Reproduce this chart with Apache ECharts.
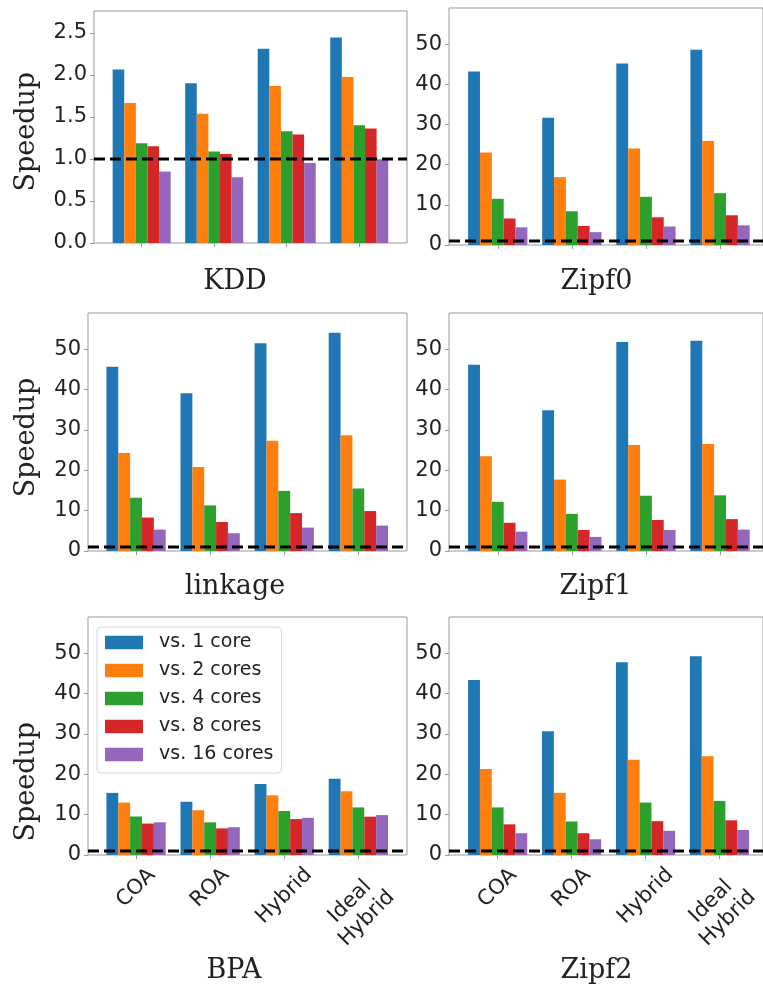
<!DOCTYPE html>
<html><head><meta charset="utf-8">
<script src="https://cdn.jsdelivr.net/npm/echarts@6.0.0/dist/echarts.min.js"></script>
<style>html,body{margin:0;padding:0;background:#fff}#c{width:763px;height:988px}</style>
</head><body><div id="c"></div>
<script>
// ---------- data ----------
const categories = ['COA', 'ROA', 'Hybrid', 'Ideal\nHybrid'];
const seriesNames = ['vs. 1 core', 'vs. 2 cores', 'vs. 4 cores', 'vs. 8 cores', 'vs. 16 cores'];
const panelTitles = ['KDD', 'Zipf0', 'linkage', 'Zipf1', 'BPA', 'Zipf2'];
const baselineValue = 1;
const kddTicks = [0, 0.5, 1, 1.5, 2, 2.5];
const speedTicks = [0, 10, 20, 30, 40, 50];
// rows: vs 1, 2, 4, 8, 16 cores; columns: COA, ROA, Hybrid, Ideal Hybrid
const kddValues = [
  [2.065, 1.899, 2.31, 2.445],
  [1.665, 1.539, 1.867, 1.974],
  [1.187, 1.088, 1.329, 1.40],
  [1.151, 1.06, 1.29, 1.361],
  [0.85, 0.783, 0.953, 0.997]
];
const zipf0Values = [
  [43.2, 31.7, 45.2, 48.6],
  [23.0, 16.9, 24.0, 25.9],
  [11.5, 8.4, 12.0, 12.9],
  [6.6, 4.75, 6.9, 7.4],
  [4.4, 3.2, 4.6, 4.9]
];
const linkageValues = [
  [45.7, 39.1, 51.5, 54.1],
  [24.3, 20.8, 27.3, 28.7],
  [13.2, 11.3, 14.9, 15.5],
  [8.3, 7.2, 9.4, 9.9],
  [5.3, 4.4, 5.8, 6.3]
];
const zipf1Values = [
  [46.2, 34.9, 51.8, 52.1],
  [23.5, 17.7, 26.3, 26.5],
  [12.2, 9.2, 13.7, 13.8],
  [7.0, 5.2, 7.7, 7.9],
  [4.8, 3.5, 5.2, 5.3]
];
const bpaValues = [
  [15.4, 13.2, 17.6, 18.9],
  [13.0, 11.1, 14.8, 15.8],
  [9.55, 8.1, 10.9, 11.8],
  [7.8, 6.6, 8.9, 9.5],
  [8.1, 6.9, 9.2, 9.9]
];
const zipf2Values = [
  [43.4, 30.7, 47.8, 49.3],
  [21.3, 15.4, 23.6, 24.5],
  [11.8, 8.3, 13.0, 13.4],
  [7.6, 5.4, 8.4, 8.6],
  [5.4, 3.9, 6.0, 6.2]
];
const panelValues = [kddValues, zipf0Values, linkageValues, zipf1Values, bpaValues, zipf2Values];
const panelTicks = [kddTicks, speedTicks, speedTicks, speedTicks, speedTicks, speedTicks];
const panelMax = [2.76, 59, 59, 59, 59, 59];

// ---------- layout / style ----------
const colors = ['#1f77b4', '#ff7f0e', '#2ca02c', '#d62728', '#9467bd'];
const layout = [
  { frame: [94, 11, 313, 232], data: [105.4, 290.1], title: [235, 281.5], ylab: [27, 131.7], xlabels: false },
  { frame: [449, 8, 320, 237], data: [460.7, 296.4], title: [596.5, 281.5], ylab: null, xlabels: false },
  { frame: [88, 313, 319, 238], data: [99, 296.4], title: [235, 586.5], ylab: [27, 437.5], xlabels: false },
  { frame: [449, 313, 320, 238], data: [460.7, 296.4], title: [595.5, 586.5], ylab: null, xlabels: false },
  { frame: [88, 617, 319, 238], data: [99, 296.4], title: [234, 971], ylab: [27, 781.7], xlabels: true },
  { frame: [449, 617, 320, 238], data: [460.7, 296.4], title: [596.5, 971], ylab: null, xlabels: true }
];
// distance from the x axis to the centre of each rotated category label
const labelMargins = [33, 33, 41, 55];
const textColor = '#222';
const frameColor = '#999';

const grid = [], xAxis = [], yAxis = [], series = [], graphic = [];
layout.forEach((L, p) => {
  const [fl, ft, fw, fh] = L.frame;
  const gi = 2 * p;
  grid.push({ left: fl, top: ft, width: fw, height: fh, show: true, borderColor: frameColor, borderWidth: 1, backgroundColor: 'transparent' });
  grid.push({ left: L.data[0], top: ft, width: L.data[1], height: fh });
  const frameX = xAxis.length;
  xAxis.push({ gridIndex: gi, type: 'value', min: 0, max: 1, show: false });
  const dataX = xAxis.length;
  xAxis.push({
    gridIndex: gi + 1, type: 'category', position: 'bottom', data: categories,
    axisLine: { show: false },
    axisTick: { show: true, alignWithLabel: true, length: 4, interval: 0, lineStyle: { color: frameColor } },
    axisLabel: { show: false },
    splitLine: { show: false }
  });
  if (L.xlabels) {
    labelMargins.forEach((m, k) => {
      xAxis.push({
        gridIndex: gi + 1, type: 'category', position: 'bottom', offset: 0, data: categories,
        axisLine: { show: false }, axisTick: { show: false }, splitLine: { show: false },
        axisLabel: {
          show: true, interval: (idx) => idx === k, rotate: 45, margin: m,
          align: 'center', verticalAlign: 'middle',
          fontSize: 21, lineHeight: 24, color: textColor, fontFamily: 'DejaVu Sans'
        }
      });
    });
  }
  const ticks = panelTicks[p];
  const frameY = yAxis.length;
  yAxis.push({
    gridIndex: gi, type: 'value', min: 0, max: panelMax[p],
    axisLine: { show: false },
    axisTick: { show: true, length: 4, customValues: ticks, lineStyle: { color: frameColor } },
    axisLabel: {
      customValues: ticks, fontSize: 21, color: textColor, margin: 7, fontFamily: 'DejaVu Sans',
      formatter: p === 0 ? (v => v.toFixed(1)) : (v => String(v))
    },
    splitLine: { show: false }
  });
  const dataY = yAxis.length;
  yAxis.push({ gridIndex: gi + 1, type: 'value', min: 0, max: panelMax[p], show: false });
  panelValues[p].forEach((vals, s) => {
    series.push({
      name: seriesNames[s], type: 'bar', xAxisIndex: dataX, yAxisIndex: dataY,
      data: vals, barGap: '0%', barCategoryGap: '20%',
      itemStyle: { color: colors[s] }, silent: true
    });
  });
  series.push({
    type: 'line', xAxisIndex: frameX, yAxisIndex: frameY,
    data: [[0, baselineValue], [1, baselineValue]],
    symbol: 'none', silent: true, z: 10,
    lineStyle: { color: '#000', width: 3, type: [11, 5] }
  });
  graphic.push({
    type: 'text', x: L.title[0], y: L.title[1], z: 50,
    style: { text: panelTitles[p], font: '27px "DejaVu Serif"', fill: textColor,
      textAlign: 'center', textVerticalAlign: 'middle', align: 'center', verticalAlign: 'middle' }
  });
  if (L.ylab) {
    graphic.push({
      type: 'text', x: L.ylab[0], y: L.ylab[1], rotation: Math.PI / 2, z: 50,
      style: { text: 'Speedup', font: '27px "DejaVu Serif"', fill: textColor,
        textAlign: 'center', textVerticalAlign: 'middle', align: 'center', verticalAlign: 'middle' }
    });
  }
});

const chart = echarts.init(document.getElementById('c'), null, { renderer: 'canvas' });
chart.setOption({
  animation: false,
  textStyle: { fontFamily: 'DejaVu Sans' },
  color: colors,
  grid, xAxis, yAxis, series, graphic,
  legend: {
    data: seriesNames, orient: 'vertical', left: 97, top: 627, icon: 'rect',
    itemWidth: 38, itemHeight: 13.5, itemGap: 9, padding: [6, 8, 9, 8],
    backgroundColor: 'rgba(255,255,255,0.85)', borderColor: '#d6d6d6', borderWidth: 1, borderRadius: 4,
    textStyle: { fontSize: 19, color: textColor, lineHeight: 19, padding: [0, 0, 0, 11], fontFamily: 'DejaVu Sans' },
    z: 20, selectedMode: false
  }
});
</script></body></html>
